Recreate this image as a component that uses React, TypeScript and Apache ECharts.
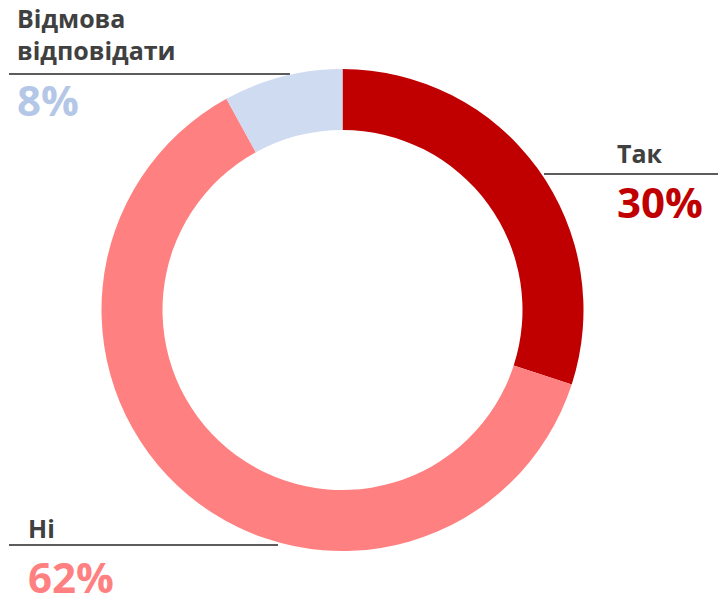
import React, { useEffect, useRef } from "react";
import * as echarts from "echarts";

const categories = ["Так", "Ні", "Відмова\nвідповідати"];
const values = [30, 62, 8];
const sliceColors = ["#C00000", "#FF8080", "#CFDBF1"];
const valueColors = ["#C00000", "#FF8080", "#B4C7E7"];
const labelAnchors = [
  [617, 137],
  [28, 512],
  [17, 2],
];

export default function App() {
  const ref = useRef<HTMLDivElement>(null);
  useEffect(() => {
    document.body.style.margin = "0";
    const chart = echarts.init(ref.current!, null, { renderer: "svg" });
    const data = categories.map((name, i) => ({
      name,
      value: values[i],
      itemStyle: { color: sliceColors[i] },
      label: {
        rich: {
          name: {
            fontFamily: "Open Sans",
            fontWeight: "bold",
            fontSize: 25,
            lineHeight: 32,
            color: "#404040",
          },
          gap: { fontSize: 1, lineHeight: i === 2 ? 15 : 14 },
          val: {
            fontFamily: "Open Sans",
            fontWeight: "bold",
            fontSize: 42,
            lineHeight: 36,
            color: valueColors[i],
          },
        },
      },
    }));
    chart.setOption({
      animation: false,
      series: [
        {
          type: "pie",
          center: [342.5, 310],
          radius: [180, 241],
          startAngle: 90,
          clockwise: true,
          silent: true,
          data,
          labelLine: { show: false },
          label: {
            show: true,
            position: "outside",
            formatter: (p: any) =>
              String(p.name)
                .split("\n")
                .map((s: string) => `{name|${s}}`)
                .join("\n") + `\n{gap| }\n{val|${p.value}%}`,
          },
          labelLayout: (params: any) => {
            const a = labelAnchors[params.dataIndex];
            return { x: a[0], y: a[1], align: "left", verticalAlign: "top" };
          },
        },
      ],
      graphic: [
        { type: "line", shape: { x1: 544, y1: 174, x2: 718, y2: 174 }, style: { stroke: "#262626", lineWidth: 1.5 } },
        { type: "line", shape: { x1: 9, y1: 74, x2: 290, y2: 74 }, style: { stroke: "#262626", lineWidth: 1.5 } },
        { type: "line", shape: { x1: 9, y1: 545, x2: 278, y2: 545 }, style: { stroke: "#262626", lineWidth: 1.5 } },
      ],
    });
    return () => chart.dispose();
  }, []);
  return <div ref={ref} style={{ width: 718, height: 594 }} />;
}
